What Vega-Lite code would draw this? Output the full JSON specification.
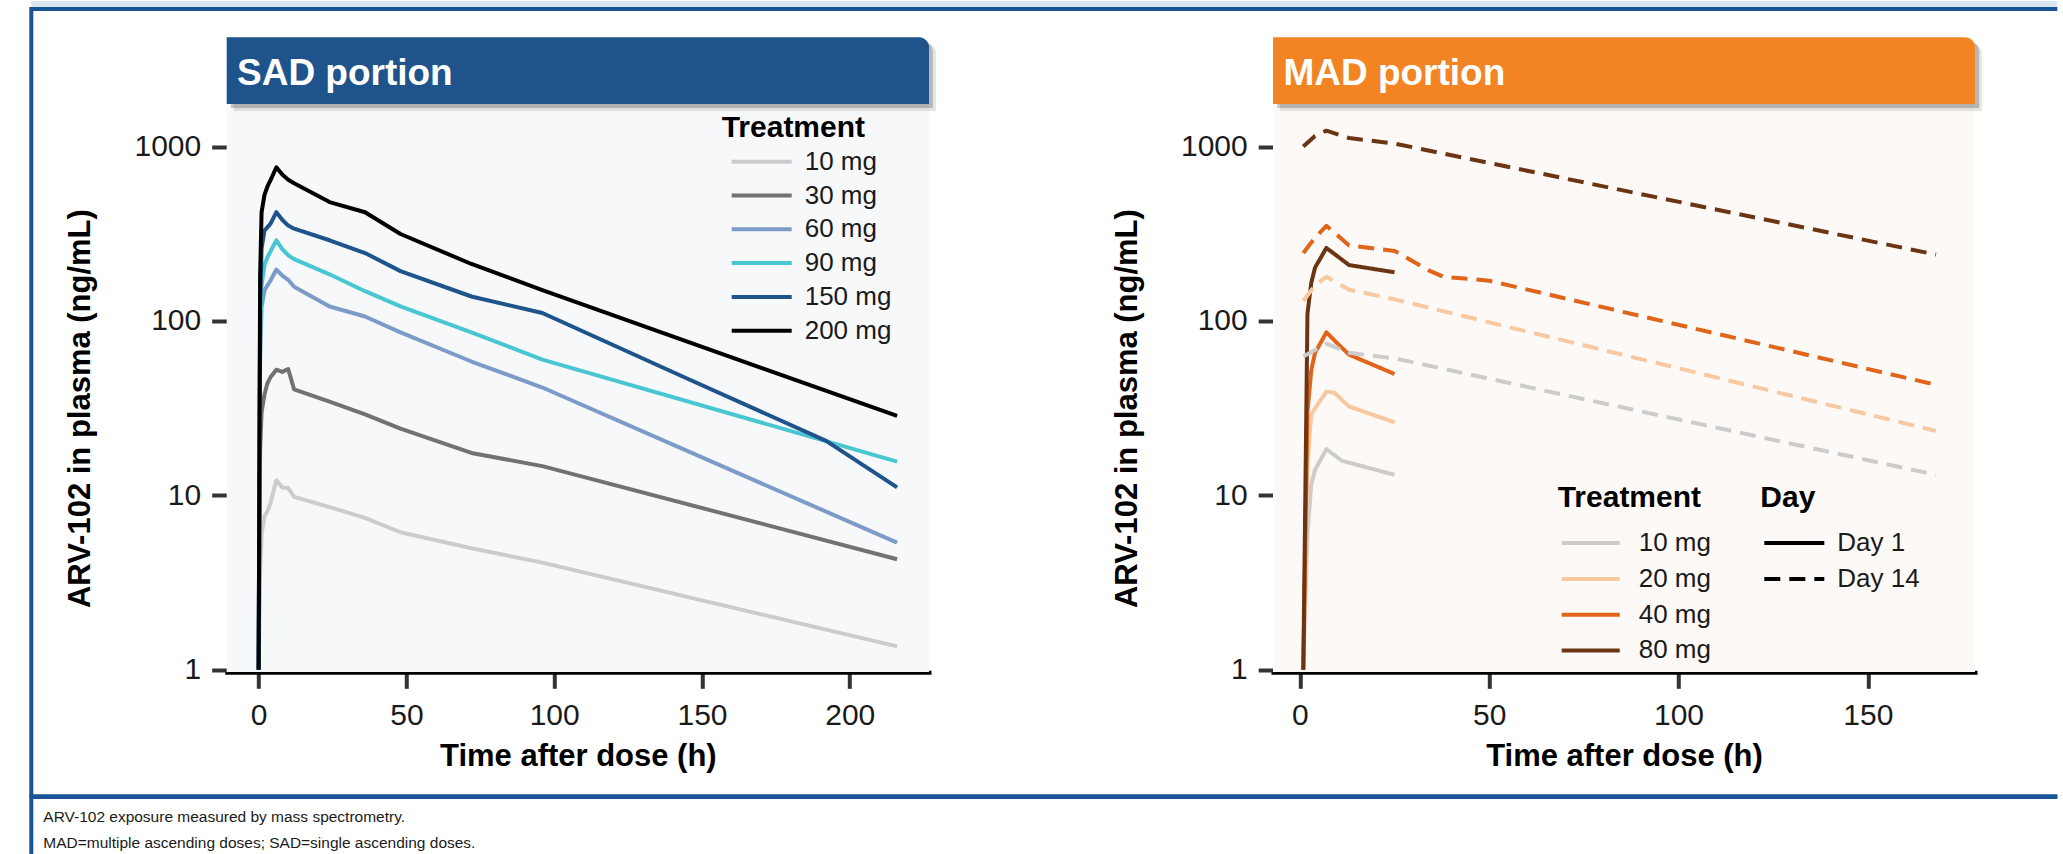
{
  "$schema": "https://vega.github.io/schema/vega-lite/v6.json",
  "padding": {"left": 29.3, "top": 0, "right": 0, "bottom": 0},
  "spacing": 0,
  "bounds": "flush",
  "background": "white",
  "config": {
    "font": "Liberation Sans",
    "view": {"stroke": null},
    "mark": {"color": "#000"},
    "axis": {"domain": true, "labelFontSize": 30, "labelColor": "#1a1a1a", "titleFontSize": 31, "titleFontWeight": "bold", "titleColor": "#000", "domainColor": "#000", "domainWidth": 4, "domainCap": "square", "tickColor": "#333", "tickWidth": 4, "grid": false, "labelFlush": false, "labelOverlap": false, "zindex": 1},
    "legend": {"titleFontSize": 30, "titleFontWeight": "bold", "titleColor": "#000", "labelFontSize": 26, "labelColor": "#1a1a1a", "symbolType": "stroke", "symbolStrokeWidth": 4, "padding": 0, "orient": "none", "clipHeight": 26}
  },
  "datasets": {
    "sad": [
      {"dose": "10 mg", "t": 0, "c": 1}, {"dose": "10 mg", "t": 0.5, "c": 3.5}, {"dose": "10 mg", "t": 1, "c": 6}, {"dose": "10 mg", "t": 2, "c": 7.6}, {"dose": "10 mg", "t": 3, "c": 8.1}, {"dose": "10 mg", "t": 4, "c": 9}, {"dose": "10 mg", "t": 6, "c": 12.2}, {"dose": "10 mg", "t": 8, "c": 11.1}, {"dose": "10 mg", "t": 10, "c": 11}, {"dose": "10 mg", "t": 12, "c": 9.8}, {"dose": "10 mg", "t": 24, "c": 8.55}, {"dose": "10 mg", "t": 36, "c": 7.42}, {"dose": "10 mg", "t": 48, "c": 6.14}, {"dose": "10 mg", "t": 72, "c": 4.97}, {"dose": "10 mg", "t": 96, "c": 4.11}, {"dose": "10 mg", "t": 216, "c": 1.36},
      {"dose": "30 mg", "t": 0, "c": 1}, {"dose": "30 mg", "t": 0.5, "c": 18}, {"dose": "30 mg", "t": 1, "c": 30}, {"dose": "30 mg", "t": 2, "c": 38}, {"dose": "30 mg", "t": 3, "c": 44}, {"dose": "30 mg", "t": 4, "c": 47.5}, {"dose": "30 mg", "t": 6, "c": 52.5}, {"dose": "30 mg", "t": 8, "c": 51}, {"dose": "30 mg", "t": 10, "c": 53}, {"dose": "30 mg", "t": 12, "c": 40.5}, {"dose": "30 mg", "t": 24, "c": 34.4}, {"dose": "30 mg", "t": 36, "c": 29.1}, {"dose": "30 mg", "t": 48, "c": 24.1}, {"dose": "30 mg", "t": 72, "c": 17.5}, {"dose": "30 mg", "t": 96, "c": 14.7}, {"dose": "30 mg", "t": 216, "c": 4.3},
      {"dose": "60 mg", "t": 0, "c": 1}, {"dose": "60 mg", "t": 0.5, "c": 60}, {"dose": "60 mg", "t": 1, "c": 120}, {"dose": "60 mg", "t": 2, "c": 150}, {"dose": "60 mg", "t": 3, "c": 160}, {"dose": "60 mg", "t": 4, "c": 170}, {"dose": "60 mg", "t": 6, "c": 197}, {"dose": "60 mg", "t": 8, "c": 182}, {"dose": "60 mg", "t": 10, "c": 172}, {"dose": "60 mg", "t": 12, "c": 157}, {"dose": "60 mg", "t": 24, "c": 121}, {"dose": "60 mg", "t": 36, "c": 106}, {"dose": "60 mg", "t": 48, "c": 86}, {"dose": "60 mg", "t": 72, "c": 58.5}, {"dose": "60 mg", "t": 96, "c": 41.5}, {"dose": "60 mg", "t": 216, "c": 5.35},
      {"dose": "90 mg", "t": 0, "c": 1}, {"dose": "90 mg", "t": 0.5, "c": 80}, {"dose": "90 mg", "t": 1, "c": 160}, {"dose": "90 mg", "t": 2, "c": 210}, {"dose": "90 mg", "t": 3, "c": 232}, {"dose": "90 mg", "t": 4, "c": 250}, {"dose": "90 mg", "t": 6, "c": 290}, {"dose": "90 mg", "t": 8, "c": 258}, {"dose": "90 mg", "t": 10, "c": 238}, {"dose": "90 mg", "t": 12, "c": 226}, {"dose": "90 mg", "t": 24, "c": 185}, {"dose": "90 mg", "t": 36, "c": 148}, {"dose": "90 mg", "t": 48, "c": 121}, {"dose": "90 mg", "t": 72, "c": 86}, {"dose": "90 mg", "t": 96, "c": 60}, {"dose": "90 mg", "t": 216, "c": 15.6},
      {"dose": "150 mg", "t": 0, "c": 1}, {"dose": "150 mg", "t": 0.5, "c": 120}, {"dose": "150 mg", "t": 1, "c": 260}, {"dose": "150 mg", "t": 2, "c": 330}, {"dose": "150 mg", "t": 3, "c": 345}, {"dose": "150 mg", "t": 4, "c": 360}, {"dose": "150 mg", "t": 6, "c": 420}, {"dose": "150 mg", "t": 8, "c": 380}, {"dose": "150 mg", "t": 10, "c": 352}, {"dose": "150 mg", "t": 12, "c": 338}, {"dose": "150 mg", "t": 24, "c": 290}, {"dose": "150 mg", "t": 36, "c": 245}, {"dose": "150 mg", "t": 48, "c": 193}, {"dose": "150 mg", "t": 72, "c": 138}, {"dose": "150 mg", "t": 96, "c": 111}, {"dose": "150 mg", "t": 144, "c": 47.5}, {"dose": "150 mg", "t": 192, "c": 20.5}, {"dose": "150 mg", "t": 216, "c": 11.1},
      {"dose": "200 mg", "t": 0, "c": 1}, {"dose": "200 mg", "t": 0.5, "c": 180}, {"dose": "200 mg", "t": 1, "c": 420}, {"dose": "200 mg", "t": 2, "c": 530}, {"dose": "200 mg", "t": 3, "c": 590}, {"dose": "200 mg", "t": 4, "c": 640}, {"dose": "200 mg", "t": 6, "c": 760}, {"dose": "200 mg", "t": 8, "c": 690}, {"dose": "200 mg", "t": 10, "c": 645}, {"dose": "200 mg", "t": 12, "c": 615}, {"dose": "200 mg", "t": 24, "c": 480}, {"dose": "200 mg", "t": 36, "c": 420}, {"dose": "200 mg", "t": 48, "c": 315}, {"dose": "200 mg", "t": 72, "c": 212}, {"dose": "200 mg", "t": 96, "c": 150}, {"dose": "200 mg", "t": 216, "c": 28.5}
    ],
    "mad": [
      {"dose": "10 mg", "day": "Day 1", "t": 0.9, "c": 1}, {"dose": "10 mg", "day": "Day 1", "t": 2, "c": 6}, {"dose": "10 mg", "day": "Day 1", "t": 3, "c": 11.5}, {"dose": "10 mg", "day": "Day 1", "t": 4, "c": 14}, {"dose": "10 mg", "day": "Day 1", "t": 7, "c": 18.4}, {"dose": "10 mg", "day": "Day 1", "t": 11, "c": 15.8}, {"dose": "10 mg", "day": "Day 1", "t": 25, "c": 13.1},
      {"dose": "20 mg", "day": "Day 1", "t": 0.9, "c": 1}, {"dose": "20 mg", "day": "Day 1", "t": 2, "c": 15}, {"dose": "20 mg", "day": "Day 1", "t": 3, "c": 29}, {"dose": "20 mg", "day": "Day 1", "t": 4, "c": 31.5}, {"dose": "20 mg", "day": "Day 1", "t": 7, "c": 39.3}, {"dose": "20 mg", "day": "Day 1", "t": 9, "c": 38.9}, {"dose": "20 mg", "day": "Day 1", "t": 13, "c": 32.3}, {"dose": "20 mg", "day": "Day 1", "t": 25, "c": 26.2},
      {"dose": "40 mg", "day": "Day 1", "t": 0.9, "c": 1}, {"dose": "40 mg", "day": "Day 1", "t": 2, "c": 30}, {"dose": "40 mg", "day": "Day 1", "t": 3, "c": 52}, {"dose": "40 mg", "day": "Day 1", "t": 4, "c": 65.6}, {"dose": "40 mg", "day": "Day 1", "t": 7, "c": 86}, {"dose": "40 mg", "day": "Day 1", "t": 10, "c": 74}, {"dose": "40 mg", "day": "Day 1", "t": 13, "c": 64}, {"dose": "40 mg", "day": "Day 1", "t": 25, "c": 49.6},
      {"dose": "80 mg", "day": "Day 1", "t": 0.9, "c": 1}, {"dose": "80 mg", "day": "Day 1", "t": 2, "c": 110}, {"dose": "80 mg", "day": "Day 1", "t": 3, "c": 165}, {"dose": "80 mg", "day": "Day 1", "t": 4, "c": 202}, {"dose": "80 mg", "day": "Day 1", "t": 7, "c": 262}, {"dose": "80 mg", "day": "Day 1", "t": 13, "c": 209}, {"dose": "80 mg", "day": "Day 1", "t": 25, "c": 190},
      {"dose": "10 mg", "day": "Day 14", "t": 0.9, "c": 62.4}, {"dose": "10 mg", "day": "Day 14", "t": 4, "c": 68}, {"dose": "10 mg", "day": "Day 14", "t": 7, "c": 74}, {"dose": "10 mg", "day": "Day 14", "t": 13, "c": 65.6}, {"dose": "10 mg", "day": "Day 14", "t": 25, "c": 61}, {"dose": "10 mg", "day": "Day 14", "t": 168, "c": 13.1},
      {"dose": "20 mg", "day": "Day 14", "t": 0.9, "c": 130}, {"dose": "20 mg", "day": "Day 14", "t": 4, "c": 160}, {"dose": "20 mg", "day": "Day 14", "t": 7, "c": 179}, {"dose": "20 mg", "day": "Day 14", "t": 13, "c": 151}, {"dose": "20 mg", "day": "Day 14", "t": 25, "c": 133}, {"dose": "20 mg", "day": "Day 14", "t": 168, "c": 23.4},
      {"dose": "40 mg", "day": "Day 14", "t": 0.9, "c": 245}, {"dose": "40 mg", "day": "Day 14", "t": 4, "c": 300}, {"dose": "40 mg", "day": "Day 14", "t": 7, "c": 351}, {"dose": "40 mg", "day": "Day 14", "t": 13, "c": 271}, {"dose": "40 mg", "day": "Day 14", "t": 25, "c": 252}, {"dose": "40 mg", "day": "Day 14", "t": 34, "c": 195}, {"dose": "40 mg", "day": "Day 14", "t": 38, "c": 179}, {"dose": "40 mg", "day": "Day 14", "t": 50, "c": 170}, {"dose": "40 mg", "day": "Day 14", "t": 168, "c": 43},
      {"dose": "80 mg", "day": "Day 14", "t": 0.9, "c": 1000}, {"dose": "80 mg", "day": "Day 14", "t": 4, "c": 1150}, {"dose": "80 mg", "day": "Day 14", "t": 7, "c": 1233}, {"dose": "80 mg", "day": "Day 14", "t": 13, "c": 1119}, {"dose": "80 mg", "day": "Day 14", "t": 25, "c": 1040}, {"dose": "80 mg", "day": "Day 14", "t": 168, "c": 240}
    ]
  },
  "vconcat": [
    {
      "width": 2026, "height": 7.7,
      "view": {"fill": "#dce6f1", "stroke": null},
      "data": {"values": [{}]},
      "mark": {"type": "rule", "opacity": 0},
      "encoding": {}
    },
    {
      "width": 2026, "height": 787.3,
      "view": {"stroke": "#175397", "strokeWidth": 4, "strokeDash": [2026, 787.3, 2813.3], "fill": null},
      "layer": [
        {
          "data": {"values": [{}]},
          "mark": {"type": "rect", "fill": "#f7f8fa"},
          "encoding": {
            "x": {"datum": -10.8, "type": "quantitative", "scale": {"domain": [-10.8, 226.8], "range": [195.4, 897.7], "nice": false, "zero": false}, "axis": null},
            "x2": {"datum": 226.8},
            "y": {"datum": 0.97, "type": "quantitative", "scale": {"type": "log", "domain": [1, 1000], "range": [660.7, 137.5], "nice": false}, "axis": null},
            "y2": {"datum": 1753}
          }
        },
        {
          "data": {"values": [{}]},
          "mark": {"type": "rect", "fill": "#000", "opacity": 0.1, "cornerRadiusTopRight": 10},
          "encoding": {
            "x": {"datum": -8.4, "type": "quantitative", "scale": {"domain": [-10.8, 226.8], "range": [195.4, 897.7], "nice": false, "zero": false}, "axis": null},
            "x2": {"datum": 229.2},
            "y": {"datum": 1598, "type": "quantitative", "scale": {"type": "log", "domain": [1, 1000], "range": [660.7, 137.5], "nice": false}, "axis": null},
            "y2": {"datum": 3900}
          }
        },
        {
          "data": {"values": [{}]},
          "mark": {"type": "rect", "fill": "#000", "opacity": 0.2, "cornerRadiusTopRight": 10},
          "encoding": {
            "x": {"datum": -9.4, "type": "quantitative", "scale": {"domain": [-10.8, 226.8], "range": [195.4, 897.7], "nice": false, "zero": false}, "axis": null},
            "x2": {"datum": 228.1},
            "y": {"datum": 1663, "type": "quantitative", "scale": {"type": "log", "domain": [1, 1000], "range": [660.7, 137.5], "nice": false}, "axis": null},
            "y2": {"datum": 4011}
          }
        },
        {
          "data": {"values": [{}]},
          "mark": {"type": "rect", "fill": "#1e548b", "cornerRadiusTopRight": 10},
          "encoding": {
            "x": {"datum": -10.8, "type": "quantitative", "scale": {"domain": [-10.8, 226.8], "range": [195.4, 897.7], "nice": false, "zero": false}, "axis": null},
            "x2": {"datum": 226.8},
            "y": {"datum": 1753, "type": "quantitative", "scale": {"type": "log", "domain": [1, 1000], "range": [660.7, 137.5], "nice": false}, "axis": null},
            "y2": {"datum": 4227}
          }
        },
        {
          "data": {"values": [{"label": "SAD portion"}]},
          "mark": {"type": "text", "color": "white", "fontSize": 37, "fontWeight": "bold", "align": "left", "baseline": "alphabetic", "dx": 10.3},
          "encoding": {
            "x": {"datum": -10.8, "type": "quantitative", "scale": {"domain": [-10.8, 226.8], "range": [195.4, 897.7], "nice": false, "zero": false}, "axis": null},
            "y": {"datum": 2264, "type": "quantitative", "scale": {"type": "log", "domain": [1, 1000], "range": [660.7, 137.5], "nice": false}, "axis": null},
            "text": {"field": "label"}
          }
        },
        {
          "data": {"name": "sad"},
          "mark": {"type": "line", "strokeWidth": 4, "strokeJoin": "round"},
          "encoding": {
            "x": {"field": "t", "type": "quantitative", "scale": {"domain": [-10.8, 226.8], "range": [195.4, 897.7], "nice": false, "zero": false},
              "axis": {"values": [0, 50, 100, 150, 200], "title": "Time after dose (h)", "orient": "bottom", "offset": -124, "tickSize": 16, "labelPadding": 12, "titlePadding": 11, "domain": true}},
            "y": {"field": "c", "type": "quantitative", "scale": {"type": "log", "domain": [1, 1000], "range": [660.7, 137.5], "nice": false},
              "axis": {"values": [1, 10, 100, 1000], "format": "d", "title": "ARV-102 in plasma (ng/mL)", "orient": "left", "offset": -197.4, "tickSize": 17, "labelPadding": 11, "titlePadding": 37, "domain": true}},
            "color": {"field": "dose", "type": "nominal",
              "scale": {"domain": ["10 mg", "30 mg", "60 mg", "90 mg", "150 mg", "200 mg"], "range": ["#cccccc", "#757171", "#7d9bc8", "#48c6d2", "#1e548b", "#000000"]},
              "legend": {"title": "Treatment", "legendX": 690.4, "legendY": 103.9, "symbolSize": 3600, "symbolOffset": 8, "labelOffset": 11, "rowPadding": 7.8, "titlePadding": 5.8}}
          }
        },
        {
          "data": {"values": [{}]},
          "mark": {"type": "rect", "fill": "#fdf9f6"},
          "encoding": {
            "x": {"datum": -7.1, "type": "quantitative", "scale": {"domain": [-7.1, 178.3], "range": [1241.7, 1943.7], "nice": false, "zero": false}, "axis": null},
            "x2": {"datum": 178.3},
            "y": {"datum": 0.97, "type": "quantitative", "scale": {"type": "log", "domain": [1, 1000], "range": [660.7, 137.5], "nice": false}, "axis": null},
            "y2": {"datum": 1753}
          }
        },
        {
          "data": {"values": [{}]},
          "mark": {"type": "rect", "fill": "#000", "opacity": 0.1, "cornerRadiusTopRight": 10},
          "encoding": {
            "x": {"datum": -5.3, "type": "quantitative", "scale": {"domain": [-7.1, 178.3], "range": [1241.7, 1943.7], "nice": false, "zero": false}, "axis": null},
            "x2": {"datum": 180.1},
            "y": {"datum": 1598, "type": "quantitative", "scale": {"type": "log", "domain": [1, 1000], "range": [660.7, 137.5], "nice": false}, "axis": null},
            "y2": {"datum": 3900}
          }
        },
        {
          "data": {"values": [{}]},
          "mark": {"type": "rect", "fill": "#000", "opacity": 0.2, "cornerRadiusTopRight": 10},
          "encoding": {
            "x": {"datum": -6.0, "type": "quantitative", "scale": {"domain": [-7.1, 178.3], "range": [1241.7, 1943.7], "nice": false, "zero": false}, "axis": null},
            "x2": {"datum": 179.4},
            "y": {"datum": 1663, "type": "quantitative", "scale": {"type": "log", "domain": [1, 1000], "range": [660.7, 137.5], "nice": false}, "axis": null},
            "y2": {"datum": 4011}
          }
        },
        {
          "data": {"values": [{}]},
          "mark": {"type": "rect", "fill": "#f28424", "cornerRadiusTopRight": 10},
          "encoding": {
            "x": {"datum": -7.1, "type": "quantitative", "scale": {"domain": [-7.1, 178.3], "range": [1241.7, 1943.7], "nice": false, "zero": false}, "axis": null},
            "x2": {"datum": 178.3},
            "y": {"datum": 1753, "type": "quantitative", "scale": {"type": "log", "domain": [1, 1000], "range": [660.7, 137.5], "nice": false}, "axis": null},
            "y2": {"datum": 4227}
          }
        },
        {
          "data": {"values": [{"label": "MAD portion"}]},
          "mark": {"type": "text", "color": "white", "fontSize": 37, "fontWeight": "bold", "align": "left", "baseline": "alphabetic", "dx": 10.4},
          "encoding": {
            "x": {"datum": -7.1, "type": "quantitative", "scale": {"domain": [-7.1, 178.3], "range": [1241.7, 1943.7], "nice": false, "zero": false}, "axis": null},
            "y": {"datum": 2264, "type": "quantitative", "scale": {"type": "log", "domain": [1, 1000], "range": [660.7, 137.5], "nice": false}, "axis": null},
            "text": {"field": "label"}
          }
        },
        {
          "data": {"name": "mad"},
          "mark": {"type": "line", "strokeWidth": 4, "strokeJoin": "round"},
          "encoding": {
            "x": {"field": "t", "type": "quantitative", "scale": {"domain": [-7.1, 178.3], "range": [1241.7, 1943.7], "nice": false, "zero": false},
              "axis": {"values": [0, 50, 100, 150], "title": "Time after dose (h)", "orient": "bottom", "offset": -124, "tickSize": 16, "labelPadding": 12, "titlePadding": 11, "domain": true}},
            "y": {"field": "c", "type": "quantitative", "scale": {"type": "log", "domain": [1, 1000], "range": [660.7, 137.5], "nice": false},
              "axis": {"values": [1, 10, 100, 1000], "format": "d", "title": "ARV-102 in plasma (ng/mL)", "orient": "left", "offset": -1243.9, "tickSize": 17, "labelPadding": 11, "titlePadding": 37, "domain": true}},
            "color": {"field": "dose", "type": "nominal",
              "scale": {"domain": ["10 mg", "20 mg", "40 mg", "80 mg"], "range": ["#cccccc", "#f8c8a0", "#e0641a", "#6b3412"]},
              "legend": {"title": "Treatment", "legendX": 1526.4, "legendY": 473.6, "symbolSize": 3364, "symbolOffset": 2, "labelOffset": 17, "rowPadding": 9.8, "titlePadding": 17.5}},
            "strokeDash": {"field": "day", "type": "nominal",
              "scale": {"domain": ["Day 1", "Day 14"], "range": [[1, 0], [16, 9]]},
              "legend": {"title": "Day", "legendX": 1729, "legendY": 473.6, "symbolSize": 3600, "symbolOffset": 2, "labelOffset": 11, "rowPadding": 9.8, "titlePadding": 17.5, "symbolStrokeColor": "#000"}}
          }
        }
      ],
      "resolve": {
        "scale": {"x": "independent", "y": "independent", "color": "independent", "strokeDash": "independent"},
        "axis": {"x": "independent", "y": "independent"},
        "legend": {"color": "independent", "strokeDash": "independent"}
      }
    },
    {
      "width": 2026, "height": 57,
      "view": {"stroke": "#175397", "strokeWidth": 4, "strokeDash": [2026, 2083, 57], "fill": null},
      "data": {"values": [
        {"n": 1, "line": "ARV-102 exposure measured by mass spectrometry."},
        {"n": 2, "line": "MAD=multiple ascending doses; SAD=single ascending doses."}
      ]},
      "mark": {"type": "text", "align": "left", "baseline": "alphabetic", "fontSize": 15.5, "dx": 12, "color": "#1a1a1a"},
      "encoding": {
        "x": {"datum": 0, "type": "quantitative", "scale": {"domain": [0, 1], "range": [0, 2026]}, "axis": null},
        "y": {"field": "n", "type": "ordinal", "scale": {"type": "point", "range": [25, 50.7], "padding": 0}, "axis": null},
        "text": {"field": "line"}
      }
    }
  ]
}
